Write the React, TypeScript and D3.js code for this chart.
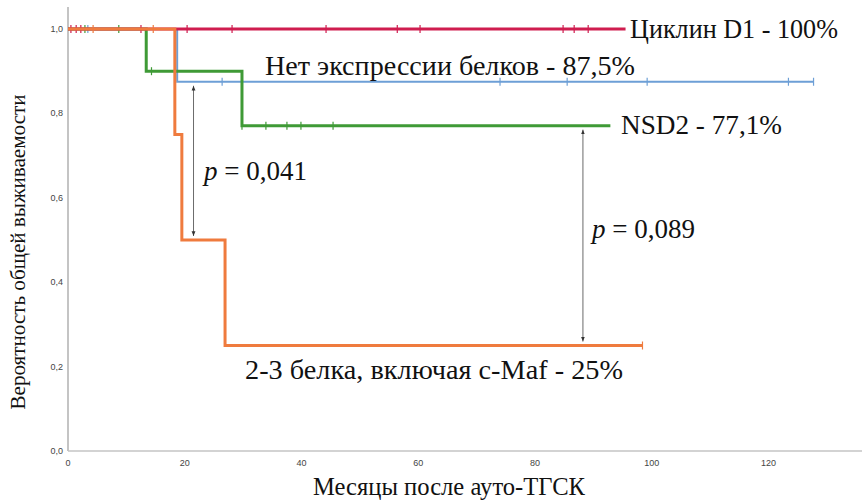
import React, { useEffect, useRef } from "react";
import * as d3 from "d3";

// survival steps: [month, survival]
const cyclinSteps: [number, number][] = [];
const cyclinEnd = 95.5;
const cyclinCensored = [0.5, 1.4, 2.2, 12.5, 20.4, 28.1, 44.2, 56.4, 60.3, 84.8, 86.7, 89.1];

const noneSteps: [number, number][] = [[18.7, 0.875]];
const noneEnd = 127.7;
const noneCensored = [3.4, 26.4, 74, 85.5, 99.2, 123.4, 127.7];

const nsdSteps: [number, number][] = [[13.4, 0.9], [29.8, 0.771]];
const nsdEnd = 92.9;
const nsdCensored = [2.9, 8.7, 14.3, 29.8, 33.9, 37.5, 39.9, 45.4];

const mafSteps: [number, number][] = [[18.3, 0.75], [19.5, 0.5], [26.9, 0.25]];
const mafEnd = 98.4;
const mafCensored = [4.3, 14.6, 98.4];

const xTicks = [0, 20, 40, 60, 80, 100, 120];
const yTicks = [0, 0.2, 0.4, 0.6, 0.8, 1.0];

function App() {
  const ref = useRef<SVGSVGElement>(null);

  useEffect(() => {
    const width = 862;
    const svg = d3.select(ref.current);
    svg.selectAll("*").remove();

    const x = d3.scaleLinear().domain([0, 136]).range([68, 862]);
    const y = d3.scaleLinear().domain([0, 1]).range([451, 29]);

    const defs = svg.append("defs");
    ["start", "end"].forEach((k) => {
      defs.append("marker")
        .attr("id", "arr-" + k)
        .attr("viewBox", "0 0 10 10")
        .attr("refX", 10).attr("refY", 5)
        .attr("markerWidth", 6).attr("markerHeight", 6)
        .attr("orient", k === "start" ? "auto-start-reverse" : "auto")
        .append("path")
        .attr("d", "M0,1L10,5L0,9z")
        .attr("fill", "#333");
    });

    // axes
    svg.append("line")
      .attr("x1", x(0)).attr("x2", x(0))
      .attr("y1", y(1.052)).attr("y2", y(0))
      .attr("stroke", "#b0b0b0").attr("stroke-width", 1.5);
    svg.append("line")
      .attr("x1", x(0)).attr("x2", width)
      .attr("y1", y(0)).attr("y2", y(0))
      .attr("stroke", "#c4c4c4").attr("stroke-width", 1.5);

    const sans = "'Liberation Sans', Arial, sans-serif";
    svg.selectAll(".ytick")
      .data(yTicks)
      .join("text")
      .attr("x", x(0) - 5)
      .attr("y", (d) => y(d) + 3)
      .attr("text-anchor", "end")
      .style("font-family", sans)
      .style("font-size", "9px")
      .attr("fill", "#444")
      .text((d) => d3.format(".1f")(d).replace(".", ","));

    svg.selectAll(".xtick")
      .data(xTicks)
      .join("text")
      .attr("x", (d) => x(d))
      .attr("y", y(0) + 15)
      .attr("text-anchor", "middle")
      .style("font-family", sans)
      .style("font-size", "9px")
      .attr("fill", "#444")
      .text((d) => d);

    const line = d3.line<[number, number]>()
      .x((d) => x(d[0]))
      .y((d) => y(d[1]))
      .curve(d3.curveStepAfter);

    const groups = [
      { steps: noneSteps, end: noneEnd, cens: noneCensored, color: "#6d9fd6", w: 2 },
      { steps: nsdSteps, end: nsdEnd, cens: nsdCensored, color: "#3f9a36", w: 3 },
      { steps: cyclinSteps, end: cyclinEnd, cens: cyclinCensored, color: "#cf1d4f", w: 3 },
      { steps: mafSteps, end: mafEnd, cens: mafCensored, color: "#ef7b3e", w: 3 },
    ];

    groups.forEach((g) => {
      const pts: [number, number][] = [[0, 1], ...g.steps];
      pts.push([g.end, pts[pts.length - 1][1]]);
      svg.append("path")
        .attr("d", line(pts))
        .attr("fill", "none")
        .attr("stroke", g.color)
        .attr("stroke-width", g.w);

      const survAt = (t: number) => {
        let s = 1;
        g.steps.forEach((st) => { if (st[0] <= t) s = st[1]; });
        return s;
      };
      svg.append("g")
        .selectAll("line")
        .data(g.cens)
        .join("line")
        .attr("x1", (d) => x(d)).attr("x2", (d) => x(d))
        .attr("y1", (d) => y(survAt(d)) - 4)
        .attr("y2", (d) => y(survAt(d)) + 4)
        .attr("stroke", g.color)
        .attr("stroke-width", 1.2);
    });

    // comparison arrows
    const arrows = [
      { t: 21.5, from: 0.875, to: 0.5 },
      { t: 88.2, from: 0.771, to: 0.25 },
    ];
    svg.selectAll(".arrow")
      .data(arrows)
      .join("line")
      .attr("x1", (d) => x(d.t)).attr("x2", (d) => x(d.t))
      .attr("y1", (d) => y(d.from) + 4)
      .attr("y2", (d) => y(d.to) - 4)
      .attr("stroke", "#444")
      .attr("stroke-width", 0.8)
      .attr("marker-start", "url(#arr-start)")
      .attr("marker-end", "url(#arr-end)");

    const serif = "'Liberation Serif', 'Times New Roman', serif";
    const labels = [
      { x: 630, y: 38, t: "Циклин D1 - 100%", len: 208 },
      { x: 265, y: 75, t: "Нет экспрессии белков - 87,5%", len: 370 },
      { x: 621, y: 134, t: "NSD2 - 77,1%", len: 161 },
      { x: 245, y: 379, t: "2-3 белка, включая c-Maf - 25%", len: 378 },
    ];
    svg.selectAll(".lab")
      .data(labels)
      .join("text")
      .attr("x", (d) => d.x)
      .attr("y", (d) => d.y)
      .attr("textLength", (d) => d.len)
      .attr("lengthAdjust", "spacingAndGlyphs")
      .style("font-family", serif)
      .style("font-size", "27px")
      .attr("fill", "#111")
      .text((d) => d.t);

    const pvals = [
      { x: 204, y: 180, v: " = 0,041" },
      { x: 592, y: 238, v: " = 0,089" },
    ];
    pvals.forEach((p) => {
      const t = svg.append("text")
        .attr("x", p.x).attr("y", p.y)
        .style("font-family", serif)
        .style("font-size", "27px")
        .attr("fill", "#111");
      t.append("tspan").style("font-style", "italic").text("p");
      t.append("tspan").text(p.v);
    });

    svg.append("text")
      .attr("transform", `translate(25, 252) rotate(-90)`)
      .attr("text-anchor", "middle")
      .attr("textLength", 315)
      .attr("lengthAdjust", "spacingAndGlyphs")
      .style("font-family", serif)
      .style("font-size", "20px")
      .attr("fill", "#111")
      .text("Вероятность общей выживаемости");

    svg.append("text")
      .attr("x", 449).attr("y", 495)
      .attr("text-anchor", "middle")
      .attr("textLength", 272)
      .attr("lengthAdjust", "spacingAndGlyphs")
      .style("font-family", serif)
      .style("font-size", "25px")
      .attr("fill", "#111")
      .text("Месяцы после ауто-ТГСК");
  }, []);

  return (
    <svg
      ref={ref}
      width={862}
      height={503}
      style={{ position: "absolute", left: 0, top: 0, background: "#fff" }}
    />
  );
}

export default App;
